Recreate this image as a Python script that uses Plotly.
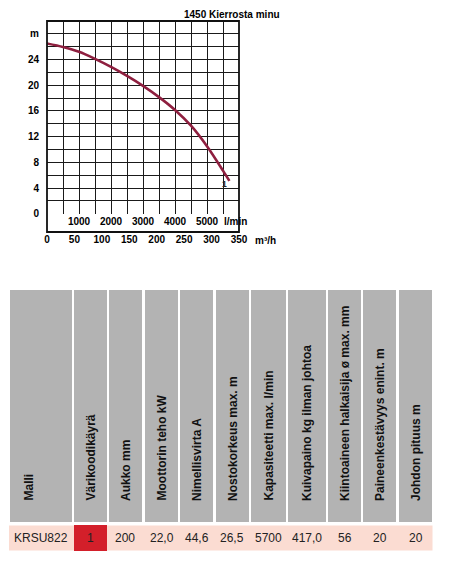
import plotly.graph_objects as go

# ---------------- data ----------------
flow_lpm = [0, 500, 1000, 1500, 2000, 2500, 3000, 3500, 4000, 4500, 5000, 5500, 5700]
head_m = [26.5, 25.95, 25.2, 24.1, 22.85, 21.45, 19.9, 18.15, 16.15, 13.7, 10.5, 6.7, 5.1]
curve_label = "1"
curve_label_pos = (5540, 4.6)

lpm_ticks = [1000, 2000, 3000, 4000, 5000]
m3h_ticks = [0, 50, 100, 150, 200, 250, 300, 350]
head_ticks = [0, 4, 8, 12, 16, 20, 24]
head_unit = "m"
chart_title = "1450 Kierrosta minu"

headers = ["Malli", "Värikoodikäyrä", "Aukko mm", "Moottorin teho kW", "Nimellisvirta A",
           "Nostokorkeus max. m", "Kapasiteetti max. l/min", "Kuivapaino kg ilman johtoa",
           "Kiintoaineen halkaisija ø max. mm", "Paineenkestävyys enint. m", "Johdon pituus m"]
row_values = ["KRSU822", "1", "200", "22,0", "44,6", "26,5", "5700", "417,0", "56", "20", "20"]

# ---------------- layout helpers (window pixel -> paper) ----------------
WIN_W, WIN_H = 454, 561
OFF = 8                      # default page body margin
W, H = WIN_W - OFF, WIN_H - OFF
def px(x):
    return (x - OFF) / W
def py(y):
    return 1 - (y - OFF) / H

FONT = "Arial, Liberation Sans, sans-serif"
CURVE = "#8e1f3f"
TXT = "#000000"
CF = dict(family=FONT, size=10, color=TXT, weight="bold")

fig = go.Figure()

fig.add_trace(go.Scatter(
    x=flow_lpm, y=head_m, mode="lines", line=dict(color=CURVE, width=2.6, shape="spline", smoothing=0.8),
    hoverinfo="skip", showlegend=False))
# dummy trace so the m3/h axis renders
fig.add_trace(go.Scatter(x=[m3h_ticks[0], m3h_ticks[-1]], y=[None, None], xaxis="x2",
                         mode="markers", showlegend=False, hoverinfo="skip"))

fig.add_annotation(x=curve_label_pos[0], y=curve_label_pos[1], xref="x", yref="y",
                   text=curve_label, showarrow=False,
                   font=dict(family=FONT, size=8.5, color="#222", weight="bold"))

x_grid = list(range(0, 6001, 500))
y_grid = list(range(0, 31, 2))
x_text = [str(v) if v in lpm_ticks else "" for v in x_grid]
y_text = []
for v in y_grid:
    if v in head_ticks:
        y_text.append(str(v))
    elif v == 28:
        y_text.append(head_unit)
    else:
        y_text.append("")

fig.update_layout(
    template="none",
    width=W, height=H, margin=dict(l=0, r=0, t=0, b=0, pad=0, autoexpand=False),
    paper_bgcolor="white", plot_bgcolor="white",
    font=dict(family=FONT, color=TXT),
    xaxis=dict(domain=[px(47), px(239)], range=[0, 6000], tickvals=x_grid, ticktext=x_text,
               showgrid=True, gridcolor="#1a1a1a", gridwidth=1.1, zeroline=False, showline=False,
               ticks="", automargin=False, tickfont=CF, fixedrange=True),
    xaxis2=dict(domain=[px(47), px(239)], range=[0, 350], overlaying="x", anchor="free",
                position=py(232), side="bottom", tickvals=m3h_ticks, automargin=False,
                showgrid=False, zeroline=False, showline=False, ticks="", tickfont=CF),
    yaxis=dict(domain=[py(213.7), py(21)], range=[0, 30], tickvals=y_grid, ticktext=y_text,
               showgrid=True, gridcolor="#1a1a1a", gridwidth=1.1, zeroline=False, showline=False,
               ticks="", ticklabelstandoff=7, automargin=False, tickfont=CF, fixedrange=True),
)

shapes = []
# chart frame
shapes.append(dict(type="rect", xref="paper", yref="paper", x0=px(47), x1=px(239),
                   y0=py(232), y1=py(21), line=dict(color="#111", width=1.8)))

annotations = []
annotations.append(dict(x=px(182), y=py(14), xref="paper", yref="paper", text=chart_title,
                        showarrow=False, xanchor="left", yanchor="middle", font=CF))
annotations.append(dict(x=px(222), y=py(222), xref="paper", yref="paper", text="l/min",
                        showarrow=False, xanchor="left", yanchor="middle", font=CF))
annotations.append(dict(x=px(265), y=py(240), xref="paper", yref="paper", text="m³/h",
                        showarrow=False, xanchor="center", yanchor="middle", font=CF))

# ---------------- table ----------------
col_edges = [(10, 72), (74, 107), (109, 142), (145, 178), (180, 213), (216, 249),
             (251, 286), (288, 326), (328, 361), (363, 396), (399, 432)]
HEAD_TOP, HEAD_BOT = 290, 522
ROW_TOP, ROW_BOT = 525.5, 550.5
GRAY = "#b3b3b3"
PINK = "#fbdcd2"
RED = "#d31f2a"

shapes.append(dict(type="rect", xref="paper", yref="paper", x0=px(9), x1=px(432.5),
                   y0=py(ROW_BOT), y1=py(ROW_TOP), fillcolor=PINK, line=dict(width=0), layer="below"))
for i, (a, b) in enumerate(col_edges):
    shapes.append(dict(type="rect", xref="paper", yref="paper", x0=px(a), x1=px(b),
                       y0=py(HEAD_BOT), y1=py(HEAD_TOP), fillcolor=GRAY, line=dict(width=0),
                       layer="below"))
    cx = (a + b) / 2
    hx = 28 if i == 0 else cx
    annotations.append(dict(x=px(hx), y=py(503), xref="paper", yref="paper", text=headers[i],
                            textangle=-90, showarrow=False, xanchor="center", yanchor="bottom",
                            font=dict(family=FONT, size=12, color="#111", weight="bold")))
    if i == 1:
        shapes.append(dict(type="rect", xref="paper", yref="paper", x0=px(a), x1=px(b),
                           y0=py(551), y1=py(525), fillcolor=RED, line=dict(width=0),
                           layer="below"))
    annotations.append(dict(x=px(cx), y=py(537.5), xref="paper", yref="paper", text=row_values[i],
                            showarrow=False, xanchor="center", yanchor="middle",
                            font=dict(family=FONT, size=12, color="#222")))

fig.update_layout(shapes=shapes, annotations=fig.layout.annotations + tuple(annotations))
fig.write_html("out.html")
